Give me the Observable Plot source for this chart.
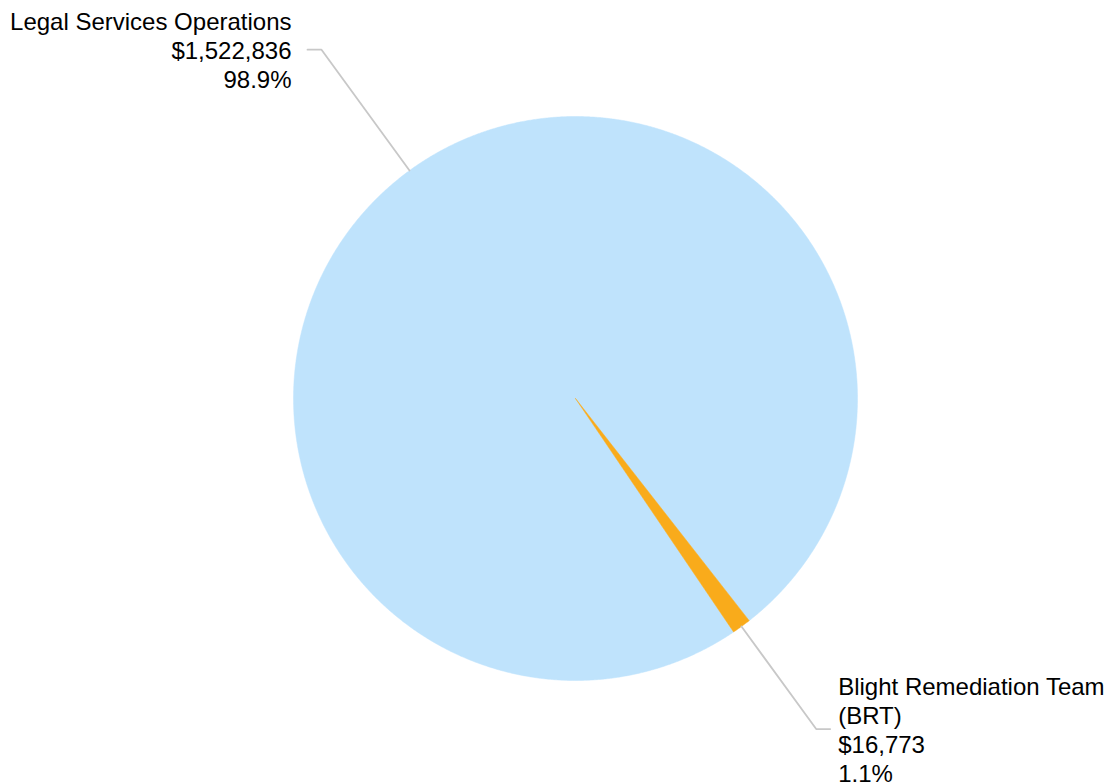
<!DOCTYPE html>
<html>
<head>
<meta charset="utf-8">
<script src="https://cdn.jsdelivr.net/npm/d3@7"></script>
<script src="https://cdn.jsdelivr.net/npm/@observablehq/plot@0.6"></script>
<style>
  html, body { margin: 0; padding: 0; background: #ffffff; }
  #chart svg { display: block; overflow: visible; }
</style>
</head>
<body>
<div id="chart"></div>
<script>
const categories = ["Legal Services Operations", "Blight Remediation Team (BRT)"];
const values = [1522836, 16773];
const colors = ["#bfe3fc", "#f9ab1b"];

const rows = categories.map((c, i) => ({name: c, value: values[i], color: colors[i], k: i}));
const total = d3.sum(values);
const startAngle = 145.9 * Math.PI / 180;
const arcs = d3.pie().sort(null).value(d => d.value)
  .startAngle(startAngle).endAngle(startAngle + 2 * Math.PI)(rows);

const R = 282; // pixel radius (for converting pixel offsets to units)
const slicePts = arcs.map((a, i) => {
  const n = Math.max(2, Math.ceil((a.endAngle - a.startAngle) / (Math.PI / 720)));
  const pts = [{x: 0, y: 0}];
  for (let j = 0; j <= n; j++) {
    const t = a.startAngle + (a.endAngle - a.startAngle) * j / n;
    pts.push({x: Math.sin(t), y: Math.cos(t)});
  }
  pts.push({x: 0, y: 0});
  return pts;
});

const conn = [];
const labels = [];
arcs.forEach((a, i) => {
  const m = (a.startAngle + a.endAngle) / 2;
  const sx = Math.sin(m), sy = Math.cos(m);
  const right = sx > 0;
  const er = right ? 1.45 : 1.53;
  const ex = er * sx, ey = er * sy;
  const hx = ex + (right ? 1 : -1) * 14 / R;
  conn.push({x: sx, y: sy, k: i}, {x: ex, y: ey, k: i}, {x: hx, y: ey, k: i});
  const pct = (a.data.value / total * 100).toFixed(1) + "%";
  labels.push({
    x: hx, y: ey, right,
    text: a.data.name + "\n$" + d3.format(",")(a.data.value) + "\n" + pct
  });
});

const font = "'Liberation Sans', Arial, Helvetica, sans-serif";

const chart = Plot.plot({
  width: 1107,
  height: 783,
  marginLeft: 293,
  marginRight: 250,
  marginTop: 116,
  marginBottom: 103,
  x: {domain: [-1, 1], axis: null},
  y: {domain: [-1, 1], axis: null},
  style: {fontFamily: font, background: "#ffffff", color: "#000"},
  marks: [
    ...slicePts.map((pts, i) => Plot.line(pts, {
      x: "x", y: "y", fill: colors[i], stroke: colors[i], strokeWidth: 0.5, curve: "linear"
    })),
    Plot.line(conn, {x: "x", y: "y", z: "k", stroke: "#c8c8c8", strokeWidth: 1.8}),
    Plot.text(labels.filter(d => !d.right), {
      x: "x", y: "y", text: "text", textAnchor: "end", lineAnchor: "middle",
      dx: -16, fontSize: 24, lineHeight: 1.21, fill: "#000"
    }),
    Plot.text(labels.filter(d => d.right), {
      x: "x", y: "y", text: "text", textAnchor: "start", lineAnchor: "middle",
      dx: 8, fontSize: 24, lineHeight: 1.21, lineWidth: 13.8, fill: "#000"
    })
  ]
});
document.getElementById("chart").append(chart);
</script>
</body>
</html>
